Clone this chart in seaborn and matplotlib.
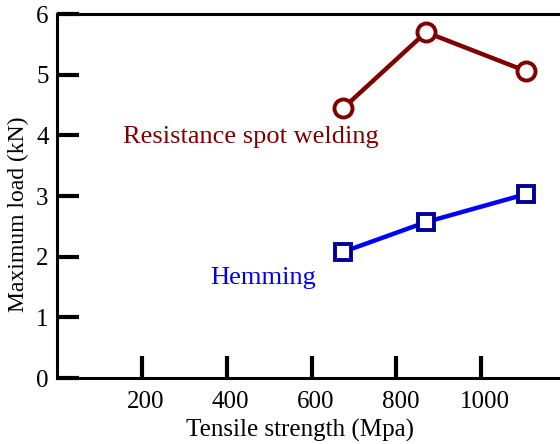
import numpy as np
import pandas as pd
import matplotlib
matplotlib.use("Agg")
import matplotlib.pyplot as plt
import matplotlib.transforms as mtransforms
import seaborn as sns

# data
strength = [675, 870, 1105]
rsw_load = [4.45, 5.70, 5.06]
hem_load = [2.08, 2.57, 3.03]

x_ticks = [200, 400, 600, 800, 1000]
y_ticks = [0, 1, 2, 3, 4, 5, 6]

sns.set_style("white")
plt.rcParams['font.family'] = ['Liberation Serif', 'DejaVu Serif']

fig = plt.figure(figsize=(5.6, 4.44), dpi=100)
ax = fig.add_axes([57 / 560, 66 / 444, 509 / 560, 364 / 444])

sns.lineplot(x=strength, y=rsw_load, ax=ax, color="#800000", linewidth=3.2,
             marker="o", markersize=13, markerfacecolor="white",
             markeredgecolor="#800000", markeredgewidth=2.8)
sns.lineplot(x=strength, y=hem_load, ax=ax, color="#0000ff", linewidth=3.2,
             marker="s", markersize=12, markerfacecolor="white",
             markeredgecolor="#000099", markeredgewidth=2.8)

ax.text(156, 3.97, "Resistance spot welding", color="#800000", fontsize=19,
        va="center")
ax.text(361, 1.65, "Hemming", color="#0000ee", fontsize=19, va="center")

ax.set_xlim(0, 1200)
ax.set_ylim(0, 6)
ax.set_xticks(x_ticks)
ax.set_yticks(y_ticks)
ax.tick_params(direction="in", length=16, width=3, labelsize=18, color="black",
               bottom=True, left=True, labelcolor="black")
ax.tick_params(axis="x", pad=9)
ax.tick_params(axis="y", pad=6)
for s in ax.spines.values():
    s.set_color("black")
    s.set_linewidth(2.2)
ax.spines["right"].set_visible(False)

# x tick labels sit a few pixels right of their ticks in the original
shift = mtransforms.ScaledTranslation(0.04, 0, fig.dpi_scale_trans)
for lbl in ax.get_xticklabels():
    lbl.set_transform(lbl.get_transform() + shift)

ax.set_xlabel("Tensile strength (Mpa)", fontsize=18, color="black", va="center")
ax.set_ylabel("Maximum load (kN)", fontsize=17, color="black", va="center")
ax.xaxis.set_label_coords(0.477, -0.145)
ax.yaxis.set_label_coords(-0.075, 0.45)

fig.savefig("out.png", dpi=100)
